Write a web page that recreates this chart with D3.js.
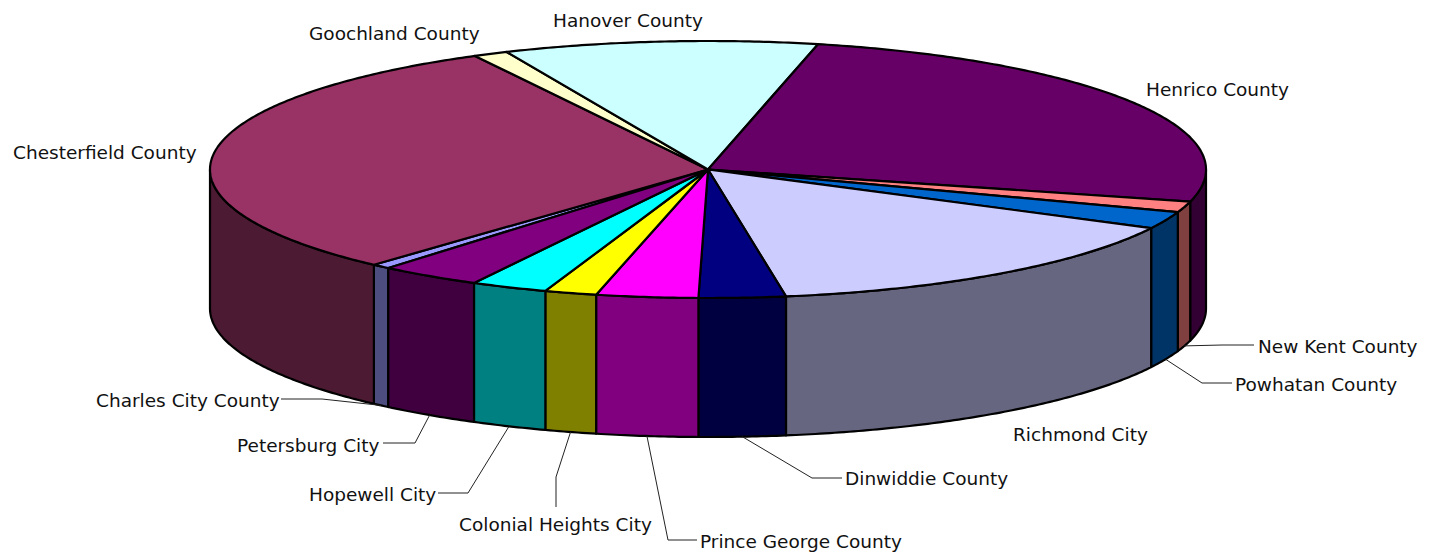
<!DOCTYPE html>
<html>
<head>
<meta charset="utf-8">
<script src="https://cdn.jsdelivr.net/npm/d3@7/dist/d3.min.js"></script>
<style>
  html, body { margin: 0; padding: 0; background: #ffffff; }
  svg { display: block; }
  text { font-family: "DejaVu Sans", Verdana, sans-serif; font-size: 18.5px; fill: #111; }
</style>
</head>
<body>
<svg id="chart" width="1430" height="552"></svg>
<script>
// ---- data ----
const categories = [
  "Charles City County", "Chesterfield County", "Goochland County", "Hanover County",
  "Henrico County", "New Kent County", "Powhatan County", "Richmond City",
  "Dinwiddie County", "Prince George County", "Colonial Heights City", "Hopewell City",
  "Petersburg City"
];
const shares = [0.61, 30.55, 1.13, 10.17, 25.48, 1.36, 2.16, 14.96, 2.81, 3.30, 1.69, 2.49, 3.31];
const colors = [
  "#9999FF", "#993366", "#FFFFCC", "#CCFFFF", "#660066", "#FF8080", "#0066CC",
  "#CCCCFF", "#000080", "#FF00FF", "#FFFF00", "#00FFFF", "#800080"
];

// ---- layout ----
const cx = 708, cy = 169.5, rx = 498, ry = 128.5, depth = 139;
const startDeg = 219.94;
const labelLayout = {
  "Hanover County":        { x: 553,  y: 27 },
  "Goochland County":      { x: 309,  y: 40 },
  "Henrico County":        { x: 1146, y: 96 },
  "Chesterfield County":   { x: 13,   y: 159 },
  "New Kent County":       { x: 1258, y: 353, elbow: [1222, 345], end: [1254, 345] },
  "Powhatan County":       { x: 1235, y: 391, elbow: [1202, 383], end: [1232, 383] },
  "Richmond City":         { x: 1013, y: 441 },
  "Dinwiddie County":      { x: 845,  y: 485, elbow: [812, 478], end: [842, 478] },
  "Prince George County":  { x: 700,  y: 548, elbow: [668, 540], end: [697, 540] },
  "Colonial Heights City": { x: 459,  y: 531, elbow: [556, 477], end: [556, 507] },
  "Hopewell City":         { x: 309,  y: 501, elbow: [468, 493], end: [438, 493] },
  "Petersburg City":       { x: 237,  y: 452, elbow: [415, 443], end: [383, 443] },
  "Charles City County":   { x: 96,   y: 407, elbow: [322, 399], end: [281, 399] }
};

const svg = d3.select("#chart");
const start = startDeg * Math.PI / 180;
const pie = d3.pie().sort(null).value(d => d.v).startAngle(start).endAngle(start + 2 * Math.PI);
const arcs = pie(categories.map((c, i) => ({ name: c, v: shares[i], color: colors[i] })));

const pt = (a, dy = 0) => [cx + rx * Math.sin(a), cy - ry * Math.cos(a) + dy];
const sample = (a0, a1, dy = 0) => {
  const n = Math.max(2, Math.ceil(Math.abs(a1 - a0) / 0.01));
  return d3.range(n + 1).map(k => pt(a0 + (a1 - a0) * k / n, dy));
};
const line = d3.line();
const half = c => { const r = d3.rgb(c); return d3.rgb(r.r * 0.5, r.g * 0.5, r.b * 0.5); };

// side walls (visible front half)
const sideG = svg.append("g");
arcs.forEach(d => {
  [0, 2 * Math.PI].forEach(off => {
    const lo = Math.max(d.startAngle, Math.PI / 2 + off);
    const hi = Math.min(d.endAngle, 3 * Math.PI / 2 + off);
    if (hi > lo) {
      const pts = sample(lo, hi).concat(sample(hi, lo, depth));
      sideG.append("path")
        .attr("d", line(pts) + "Z")
        .attr("fill", half(d.data.color))
        .attr("stroke", "#000").attr("stroke-width", 2.2).attr("stroke-linejoin", "round");
    }
  });
});

// top faces
const topG = svg.append("g");
arcs.forEach(d => {
  const pts = [[cx, cy]].concat(sample(d.startAngle, d.endAngle));
  topG.append("path")
    .attr("d", line(pts) + "Z")
    .attr("fill", d.data.color)
    .attr("stroke", "#000").attr("stroke-width", 2.2).attr("stroke-linejoin", "round");
});

// leader lines and labels
const labG = svg.append("g");
arcs.forEach(d => {
  const L = labelLayout[d.data.name];
  if (L.elbow) {
    const mid = (d.startAngle + d.endAngle) / 2;
    labG.append("path")
      .attr("d", line([pt(mid, depth), L.elbow, L.end]))
      .attr("fill", "none").attr("stroke", "#222").attr("stroke-width", 1);
  }
  labG.append("text").attr("x", L.x).attr("y", L.y).text(d.data.name);
});
</script>
</body>
</html>
